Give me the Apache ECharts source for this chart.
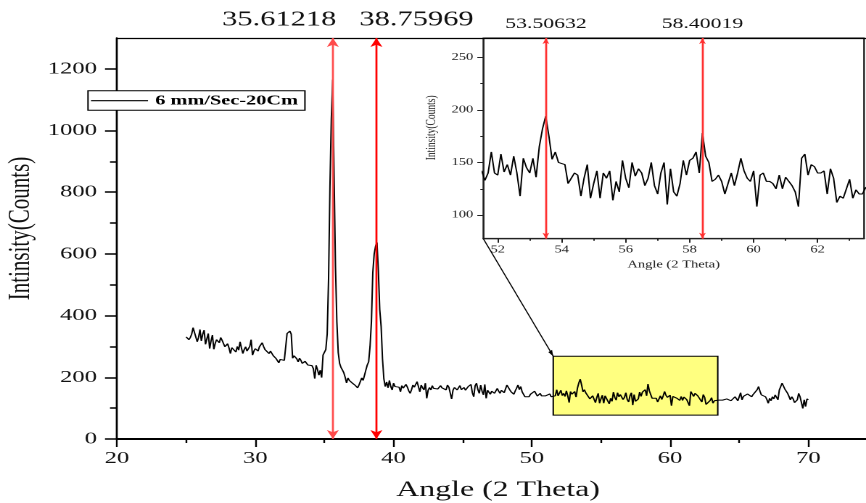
<!DOCTYPE html>
<html>
<head>
<meta charset="utf-8">
<script src="https://cdn.jsdelivr.net/npm/echarts@6/dist/echarts.min.js"></script>
<style>
  html, body { margin: 0; padding: 0; background: #fff; overflow: hidden; }
  #stage { width: 866px; height: 503px; overflow: hidden; position: relative; background: #fff; }
  #chart { position: absolute; left: 0; top: 0; height: 503px; transform-origin: 0 0; }
</style>
</head>
<body>
<div id="stage"><div id="chart"></div></div>
<script>
// XRD scan: 2-theta from 25.0 to 70.0 degrees, 0.1 degree steps
const ANGLE_START = 25.0;
const ANGLE_STEP = 0.1;
const counts = [
  331,325,322,329,340,361,358,366,315,330,
  355,318,340,353,307,325,342,293,318,337,
  291,310,322,318,312,329,320,315,299,305,
  309,295,277,296,293,299,282,300,288,315,
  295,277,290,299,285,282,300,322,272,285,
  293,290,285,299,295,312,300,290,295,285,
  277,285,288,270,275,261,255,247,258,261,
  262,255,258,342,347,350,340,262,270,266,
  260,250,262,255,245,239,252,250,240,234,
  245,238,228,196,239,225,207,223,199,272,
  275,290,340,520,820,1040,1165,850,560,380,
  280,245,232,224,215,200,182,198,190,185,
  182,178,175,170,166,175,180,198,190,195,
  224,240,250,300,380,540,600,625,637,545,
  420,365,260,195,170,185,166,190,170,159,
  181,170,164,175,168,153,173,165,159,177,
  168,156,148,160,175,168,162,186,170,153,
  175,166,159,181,132,158,167,159,173,164,
  167,158,162,168,173,166,164,170,159,175,
  168,162,130,158,167,170,159,165,173,160,
  164,167,158,162,170,164,177,150,137,173,
  181,160,148,175,155,143,177,132,158,164,
  145,155,159,148,153,164,155,148,158,164,
  150,156,175,173,160,153,150,145,156,165,
  175,160,170,153,145,137,135,140,137,145,
  143,150,155,159,139,145,148,140,143,135,
  140,143,138,146,137,142,133,140,160,140,
  138,158,141,148,138,156,140,118,154,145,
  140,154,136,165,182,194,175,153,160,150,
  149,148,130,135,140,138,118,135,148,116,
  130,142,116,140,135,142,114,132,122,152,
  135,126,150,137,144,140,128,135,150,128,
  120,140,150,110,144,122,118,130,152,138,
  152,154,160,140,178,156,150,132,134,138,
  132,120,130,140,128,140,154,142,135,132,
  142,108,138,140,132,132,130,125,138,125,
  136,132,128,122,108,154,158,138,148,146,
  140,140,142,120,144,135,112,118,116,125,
  134,116,124,120,120,126,128,132,126,130,
  121,130,127,134,124,118,130,137,132,124,
  127,150,127,138,143,136,146,148,140,137,
  144,146,150,160,170,155,143,146,140,137,
  128,116,132,124,137,130,143,135,127,159,
  165,181,175,162,155,148,138,127,137,130,
  118,124,127,148,137,118,99,127,105,130,
  127
];

// Marked peak positions (2-theta)
const mainPeaks = [35.61218, 38.75969];
const detailPeaks = [53.50632, 58.40019];

const seriesName = '6 mm/Sec-20Cm';

// Main axes
const mainXRange = [20, 74.17];
const mainYRange = [0, 1300];
const mainXTicks = [20, 30, 40, 50, 60, 70];
const mainXMinor = [25, 35, 45, 55, 65];
const mainYTicks = [0, 200, 400, 600, 800, 1000, 1200];
const mainYMinor = [100, 300, 500, 700, 900, 1100];

// Zoomed window (also the highlighted box on the main plot)
const detailXRange = [51.55, 63.45];
const detailYRange = [77.5, 268.4];
const detailXTicks = [52, 54, 56, 58, 60, 62];
const detailXMinor = [53, 55, 57, 59, 61, 63];
const detailYTicks = [100, 150, 200, 250];
const detailYMinor = [125, 175, 225];

// The figure is drawn on a narrower canvas and stretched horizontally.
const W = 597;
const SX = 866 / W;
const hx = px => px / SX;

const SERIF = '"Liberation Serif", "Times New Roman", Times, serif';
const INK = '#000';
const plain = v => String(v);

const points = counts.map((c, i) => [+(ANGLE_START + i * ANGLE_STEP).toFixed(1), c]);

const el = document.getElementById('chart');
el.style.width = W + 'px';
el.style.transform = 'scaleX(' + SX + ')';
const chart = echarts.init(el, null, { renderer: 'canvas', devicePixelRatio: 2, width: W, height: 503 });

function peakLines(peaks, yRange, colors, labelCfg) {
  return peaks.map((a, k) => {
    const name = a.toFixed(5);
    return [
      { name, coord: [a, yRange[0]], lineStyle: { color: colors[k] }, label: labelCfg[k] },
      { name, coord: [a, yRange[1]] }
    ];
  });
}

const noLine = { show: false, onZero: false };

const option = {
  animation: false,
  backgroundColor: '#fff',
  textStyle: { fontFamily: SERIF, color: INK },
  grid: [
    { left: hx(117), right: 0, top: 38, bottom: 64, outerBoundsMode: 'none' },
    { left: hx(483.3), right: hx(2), top: 38, bottom: 264.3, outerBoundsMode: 'none',
      show: true, backgroundColor: '#fff', borderColor: INK, borderWidth: 1 }
  ],
  legend: {
    show: true,
    data: [{ name: seriesName, icon: 'rect', itemStyle: { color: INK } }],
    left: hx(88), top: 90.7,
    orient: 'horizontal',
    itemWidth: hx(57), itemHeight: 1.2,
    padding: [3, hx(7), 2.5, hx(3)],
    backgroundColor: '#fff', borderColor: INK, borderWidth: 1,
    textStyle: { fontFamily: SERIF, fontWeight: 'bold', fontSize: 14, color: INK, lineHeight: 14 },
    z: 20
  },
  xAxis: [
    { // main bottom axis
      type: 'value', gridIndex: 0, position: 'bottom', min: mainXRange[0], max: mainXRange[1],
      axisLine: { show: true, onZero: false, lineStyle: { color: INK, width: 2 } },
      axisTick: { show: true, customValues: mainXTicks, length: 8, lineStyle: { color: INK, width: 1.2 } },
      axisLabel: { customValues: mainXTicks, formatter: plain, fontSize: 17, margin: 11, fontFamily: SERIF, color: '#111' },
      splitLine: { show: false },
      name: 'Angle (2 Theta)', nameLocation: 'middle', nameGap: 40, nameMoveOverlap: false,
      nameTextStyle: { fontSize: 22, fontFamily: SERIF, color: '#111', padding: [0, 0, 0, 9] }
    },
    { // main bottom minor ticks
      type: 'value', gridIndex: 0, position: 'bottom', min: mainXRange[0], max: mainXRange[1],
      axisLine: noLine,
      axisTick: { show: true, customValues: mainXMinor, length: 4, lineStyle: { color: INK, width: 1.2 } },
      axisLabel: { show: false }, splitLine: { show: false }
    },
    { // main top border
      type: 'value', gridIndex: 0, position: 'top', min: mainXRange[0], max: mainXRange[1],
      axisLine: { show: true, onZero: false, lineStyle: { color: INK, width: 1.2 } },
      axisTick: { show: false }, axisLabel: { show: false }, splitLine: { show: false }
    },
    { // detail bottom axis
      type: 'value', gridIndex: 1, position: 'bottom', min: detailXRange[0], max: detailXRange[1],
      axisLine: { show: true, onZero: false, lineStyle: { color: '#222', width: 1.3 } },
      axisTick: { show: true, customValues: detailXTicks, length: 4, lineStyle: { color: '#222', width: 1 } },
      axisLabel: { customValues: detailXTicks, formatter: plain, fontSize: 10, margin: 6, fontFamily: SERIF, color: '#222' },
      splitLine: { show: false },
      name: 'Angle (2 Theta)', nameLocation: 'middle', nameGap: 21, nameMoveOverlap: false,
      nameTextStyle: { fontSize: 10, fontFamily: SERIF, color: '#222' }
    },
    { // detail bottom minor ticks
      type: 'value', gridIndex: 1, position: 'bottom', min: detailXRange[0], max: detailXRange[1],
      axisLine: noLine,
      axisTick: { show: true, customValues: detailXMinor, length: 2, lineStyle: { color: '#222', width: 1 } },
      axisLabel: { show: false }, splitLine: { show: false }
    }
  ],
  yAxis: [
    { // main left axis
      type: 'value', gridIndex: 0, position: 'left', min: mainYRange[0], max: mainYRange[1],
      axisLine: { show: true, onZero: false, lineStyle: { color: INK, width: 1.4 } },
      axisTick: { show: true, customValues: mainYTicks, length: hx(12), lineStyle: { color: INK, width: 1.5 } },
      axisLabel: { customValues: mainYTicks, formatter: plain, fontSize: 17, margin: hx(20), fontFamily: SERIF, color: '#111' },
      splitLine: { show: false },
      name: 'Intinsity(Counts)', nameLocation: 'middle', nameRotate: 90, nameGap: 55.7, nameMoveOverlap: false,
      nameTextStyle: { fontSize: 21, fontFamily: SERIF, color: '#111', padding: [0, 0, 0, 20] }
    },
    { // main left minor ticks
      type: 'value', gridIndex: 0, position: 'left', min: mainYRange[0], max: mainYRange[1],
      axisLine: noLine,
      axisTick: { show: true, customValues: mainYMinor, length: hx(7), lineStyle: { color: INK, width: 1.5 } },
      axisLabel: { show: false }, splitLine: { show: false }
    },
    { // detail left axis
      type: 'value', gridIndex: 1, position: 'left', min: detailYRange[0], max: detailYRange[1],
      axisLine: { show: true, onZero: false, lineStyle: { color: '#222', width: 1 } },
      axisTick: { show: true, customValues: detailYTicks, length: hx(6), lineStyle: { color: '#222', width: 1 } },
      axisLabel: { customValues: detailYTicks, formatter: plain, fontSize: 10, margin: hx(10), fontFamily: SERIF, color: '#222' },
      splitLine: { show: false },
      name: 'Intinsity(Counts)', nameLocation: 'middle', nameRotate: 90, nameGap: 30.6, nameMoveOverlap: false,
      nameTextStyle: { fontSize: 9.5, fontFamily: SERIF, color: '#222', padding: [0, 0, 0, 21] }
    },
    { // detail left minor ticks
      type: 'value', gridIndex: 1, position: 'left', min: detailYRange[0], max: detailYRange[1],
      axisLine: noLine,
      axisTick: { show: true, customValues: detailYMinor, length: hx(3), lineStyle: { color: '#222', width: 1 } },
      axisLabel: { show: false }, splitLine: { show: false }
    }
  ],
  series: [
    {
      name: seriesName, type: 'line', xAxisIndex: 0, yAxisIndex: 0,
      data: points, symbol: 'none', showSymbol: false,
      lineStyle: { color: INK, width: 1 }, itemStyle: { color: INK },
      z: 3,
      markArea: {
        silent: true,
        itemStyle: { color: '#ffff80', borderColor: INK, borderWidth: 1 },
        data: [[{ coord: [detailXRange[0], detailYRange[0]] }, { coord: [detailXRange[1], detailYRange[1]] }]]
      },
      markLine: {
        silent: true,
        symbol: ['arrow', 'arrow'], symbolSize: [hx(9), 9],
        lineStyle: { type: 'solid', width: hx(2) },
        label: { show: true, position: 'end', formatter: '{b}', fontSize: 21, fontFamily: SERIF, color: '#111', distance: 7.5 },
        data: peakLines(mainPeaks, mainYRange, ['#ff4a4a', '#ff0000'],
          [{ padding: [0, 74, 0, 0] }, { padding: [0, 0, 0, 55.4] }])
      }
    },
    {
      name: seriesName, type: 'line', xAxisIndex: 3, yAxisIndex: 2,
      data: points, symbol: 'none', showSymbol: false, clip: true,
      lineStyle: { color: INK, width: 1 }, itemStyle: { color: INK },
      z: 3,
      markLine: {
        silent: true,
        symbol: ['arrow', 'arrow'], symbolSize: [hx(5), 6],
        lineStyle: { type: 'solid', width: hx(2) },
        label: { show: true, position: 'end', formatter: '{b}', fontSize: 15, fontFamily: SERIF, color: '#111', distance: 6.5 },
        data: peakLines(detailPeaks, detailYRange, ['#ff3030', '#ff3030'], [{}, {}])
      }
    }
  ]
};

chart.setOption(option);

// Connector from the detail window's corner to the highlighted box
const from = chart.convertToPixel({ xAxisIndex: 3, yAxisIndex: 2 }, [detailXRange[0], detailYRange[0]]);
const to = chart.convertToPixel({ xAxisIndex: 0, yAxisIndex: 0 }, [detailXRange[0], detailYRange[1]]);
// arrowhead shaped in the stretched (display) space
const dx = (to[0] - from[0]) * SX, dy = to[1] - from[1];
const len = Math.hypot(dx, dy);
const ux = dx / len, uy = dy / len;
const headL = 6, headW = 2.2;
const bx = to[0] * SX - ux * headL, by = to[1] - uy * headL;
const head = [
  [to[0], to[1]],
  [(bx - uy * headW) / SX, by + ux * headW],
  [(bx + uy * headW) / SX, by - ux * headW]
];
chart.setOption({
  graphic: [
    { type: 'line', silent: true, z: 10,
      shape: { x1: from[0], y1: from[1], x2: to[0], y2: to[1] },
      style: { stroke: INK, lineWidth: 0.8 } },
    { type: 'polygon', silent: true, z: 10,
      shape: { points: head }, style: { fill: INK } }
  ]
});
</script>
</body>
</html>
